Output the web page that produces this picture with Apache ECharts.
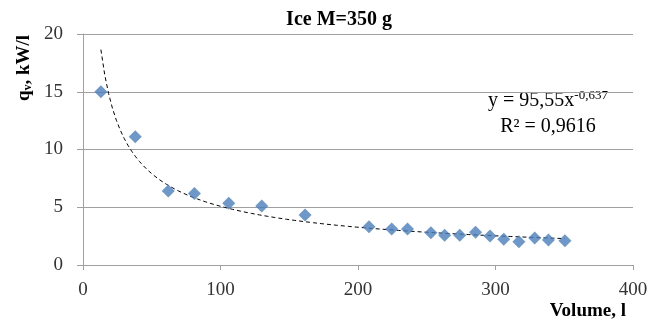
<!DOCTYPE html>
<html><head><meta charset="utf-8">
<script src="https://cdn.jsdelivr.net/npm/echarts@6/dist/echarts.min.js"></script>
<style>html,body{margin:0;padding:0;background:#fff}#c{width:667px;height:322px}</style>
</head><body><div id="c"></div>
<script>
const volume = [13, 38, 62, 81, 106, 130, 161.5, 208, 224.5, 236, 253, 263, 274, 285.5, 296, 306, 317, 328.5, 338.5, 350.5];
const qv = [15.0, 11.1, 6.4, 6.2, 5.35, 5.1, 4.33, 3.32, 3.12, 3.12, 2.8, 2.57, 2.57, 2.83, 2.51, 2.22, 2.02, 2.34, 2.16, 2.1];
const xTicks = [0, 100, 200, 300, 400];
const yTicks = [0, 5, 10, 15, 20];
const trendA = 95.55, trendB = -0.637;
const trendStart = 13, trendEnd = 350.5;

const trend = [];
const steps = 120;
for (let i = 0; i <= steps; i++) {
  const x = trendStart + (trendEnd - trendStart) * i / steps;
  trend.push([x, trendA * Math.pow(x, trendB)]);
}

const serif = '"Liberation Serif","Times New Roman",serif';
const chart = echarts.init(document.getElementById('c'), null, {renderer: 'canvas'});
chart.setOption({
  animation: false,
  backgroundColor: '#fff',
  grid: {left: 83, right: 34, top: 34, bottom: 57},
  xAxis: {
    type: 'value', min: xTicks[0], max: xTicks[xTicks.length - 1], interval: 100,
    axisLine: {show: true, lineStyle: {color: '#a0a0a0', width: 1}},
    axisTick: {show: true, length: 5, lineStyle: {color: '#a0a0a0'}},
    splitLine: {show: false},
    axisLabel: {fontFamily: serif, fontSize: 19, color: '#333', margin: 16}
  },
  yAxis: {
    type: 'value', min: yTicks[0], max: yTicks[yTicks.length - 1], interval: 5,
    axisLine: {show: true, lineStyle: {color: '#a0a0a0', width: 1}},
    axisTick: {show: true, length: 6, lineStyle: {color: '#a0a0a0'}},
    splitLine: {show: true, lineStyle: {color: '#a0a0a0', width: 1}},
    axisLabel: {fontFamily: serif, fontSize: 19, color: '#333', margin: 20}
  },
  graphic: [
    {type: 'text', x: 339, y: 20, style: {
      text: 'Ice M=350 g', fontFamily: serif, fontWeight: 'bold', fontSize: 20, fill: '#000',
      textAlign: 'center', textVerticalAlign: 'middle'
    }},
    {type: 'text', x: 24, y: 68, rotation: Math.PI / 2, style: {
      text: '{a|q}{s|v}{a|, kW/l}', textAlign: 'center', textVerticalAlign: 'middle',
      rich: {
        a: {fontFamily: serif, fontWeight: 'bold', fontSize: 19, fill: '#000'},
        s: {fontFamily: serif, fontWeight: 'bold', fontSize: 12, fill: '#000', padding: [8, 0, 0, 0]}
      }
    }},
    {type: 'text', x: 626, y: 311, style: {
      text: 'Volume, l', fontFamily: serif, fontWeight: 'bold', fontSize: 19, fill: '#000',
      textAlign: 'right', textVerticalAlign: 'middle'
    }},
    {type: 'text', x: 548, y: 101, style: {
      text: '{a|y = 95,55x}{s|-0,637}', textAlign: 'center', textVerticalAlign: 'middle',
      rich: {a: {fontFamily: serif, fontSize: 20, fill: '#000'},
             s: {fontFamily: serif, fontSize: 13, fill: '#000', padding: [0, 0, 10, 0]}}
    }},
    {type: 'text', x: 548, y: 127, style: {
      text: 'R² = 0,9616', fontFamily: serif, fontSize: 20, fill: '#000',
      textAlign: 'center', textVerticalAlign: 'middle'
    }}
  ],
  series: [
    {
      type: 'line', data: trend, showSymbol: false, symbol: 'none', smooth: false,
      lineStyle: {color: '#000', width: 1, type: [4, 3]}, z: 3, silent: true
    },
    {
      type: 'scatter', data: volume.map((v, i) => [v, qv[i]]),
      symbol: 'diamond', symbolSize: [13, 13],
      itemStyle: {color: '#4a7ebb'}, z: 4
    }
  ]
});
</script></body></html>
